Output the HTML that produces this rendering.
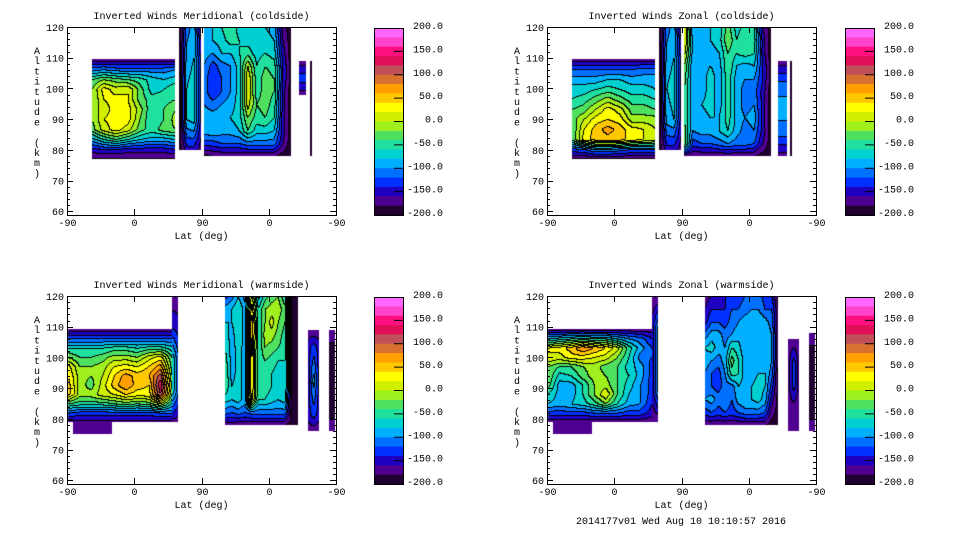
<!DOCTYPE html>
<html><head><meta charset="utf-8"><style>
html,body{margin:0;padding:0;background:#fff;}
#wrap{position:relative;width:960px;height:540px;overflow:hidden;font-family:"Liberation Mono",monospace;}
canvas{position:absolute;}
svg{position:absolute;left:0;top:0;}
text{font-family:"Liberation Mono",monospace;font-size:10px;fill:#000;}
</style></head><body>
<div id="wrap">
<canvas id="c0" width="269" height="188" style="left:67px;top:27px"></canvas>
<canvas id="c1" width="269" height="188" style="left:547px;top:27px"></canvas>
<canvas id="c2" width="269" height="188" style="left:67px;top:296px"></canvas>
<canvas id="c3" width="269" height="188" style="left:547px;top:296px"></canvas>
<svg id="ov" width="960" height="540"></svg>
</div>
<script>
// colour levels, top (200) to bottom (-200), 20 bands of 20
const levelColors = ["#ff66ff","#ff44cc","#ff1080","#e01058","#c05058","#d87030","#ffa000","#ffc800","#ffff00","#d0f000","#a0f020","#50e060","#20e0a0","#00d0d0","#00b0ff","#0070ff","#0030ff","#2000c0","#500090","#200030"];
const cbarLabels = ["200.0","150.0","100.0","50.0","0.0","-50.0","-100.0","-150.0","-200.0"];
const xTickLabels = ["-90","0","90","0","-90"];
const yTickLabels = [60,70,80,90,100,110,120];
const titles = ["Inverted Winds Meridional (coldside)","Inverted Winds Zonal (coldside)","Inverted Winds Meridional (warmside)","Inverted Winds Zonal (warmside)"];

// ---- panel data: rows bottom->top, columns left->right (wind, m/s) ----
const tlA = [
[-185,-185,-185,-185,-185,-185,-185,-185],
[-150,-140,-140,-150,-150,-150,-150,-140],
[-90,-60,-40,-60,-80,-90,-90,-80],
[-30,10,30,10,-30,-50,-30,-20],
[-20,20,30,30,-20,-60,-40,-10],
[-10,10,30,30,-10,-60,-40,-20],
[-20,20,30,20,-30,-50,-50,-40],
[-20,30,10,20,-30,-70,-60,-40],
[-40,-20,-30,-40,-50,-70,-80,-70],
[-110,-100,-110,-110,-110,-110,-110,-100],
[-170,-170,-170,-170,-170,-170,-170,-170]];
const tlB = [[-190,-150,-150,-170],[-190,-80,-70,-150],[-190,-80,-70,-150],[-190,-90,-80,-150],[-190,-110,-90,-170]];
const tlC = [
[-190,-180,-180,-180,-180,-180,-180,-180,-180,-190,-195],
[-130,-130,-120,-120,-120,-110,-110,-110,-110,-160,-195],
[-90,-80,-90,-90,-80,-40,-70,-70,-80,-150,-195],
[-90,-90,-90,-80,-70,-20,-50,-40,-60,-150,-195],
[-100,-110,-100,-90,-70,10,-40,-30,-50,-150,-195],
[-110,-140,-120,-100,-70,20,-50,-30,-40,-150,-195],
[-110,-140,-120,-100,-70,20,-50,-30,-40,-140,-195],
[-100,-130,-110,-100,-70,0,-60,-40,-50,-140,-195],
[-90,-100,-80,-80,-60,-50,-70,-60,-70,-150,-195],
[-80,-80,-70,-50,-60,-70,-70,-70,-80,-160,-195],
[-90,-80,-60,-40,-70,-80,-80,-80,-90,-170,-195]];
const tlD = [[-170,-170],[-130,-130],[-170,-170]];
const tlE = [[-195,-195],[-195,-195]];

const trA = [
[-185,-185,-185,-185,-185,-185,-185,-185],
[-130,-120,-100,-100,-110,-120,-120,-120],
[-40,30,50,50,50,30,20,10],
[-40,20,50,70,50,30,20,0],
[-30,0,30,40,30,-10,-10,-10],
[-40,-30,0,30,10,-30,-30,-40],
[-60,-50,-30,-10,-30,-50,-50,-60],
[-70,-70,-60,-50,-60,-70,-70,-80],
[-90,-90,-90,-80,-80,-90,-90,-90],
[-120,-120,-120,-120,-120,-120,-110,-110],
[-170,-170,-170,-170,-170,-170,-170,-170]];
const trB = [[-190,-150,-150,-170],[-190,-90,-80,-150],[-190,-80,-70,-150],[-190,-90,-80,-150],[-190,-110,-90,-170]];
const trC = [
[-185,-180,-180,-180,-180,-180,-180,-180,-180,-190,-195],
[-20,-130,-120,-120,-110,-100,-110,-110,-120,-160,-195],
[-30,-100,-90,-90,-80,-60,-90,-110,-100,-150,-195],
[-40,-100,-90,-80,-80,-50,-90,-100,-90,-150,-195],
[-40,-100,-80,-70,-90,-50,-90,-110,-100,-150,-195],
[-40,-100,-90,-70,-90,-50,-90,-110,-110,-150,-195],
[-30,-100,-90,-70,-90,-50,-90,-100,-100,-140,-195],
[-20,-100,-90,-80,-90,-40,-80,-90,-80,-140,-195],
[10,-90,-90,-90,-80,-40,-60,-50,-60,-150,-195],
[30,-90,-80,-80,-70,-20,-60,-40,-50,-150,-195],
[30,-100,-80,-80,-70,-30,-70,-50,-60,-160,-195]];
const trD = [[-170,-170],[-110,-110],[-90,-90],[-110,-110],[-170,-170]];
const trE = [[-195,-195],[-195,-195]];

const blA = [
[-170,-170,-170,-170,-170,-170,-170,-170,-170,-170],
[-120,-130,-130,-130,-130,-130,-130,-130,-120,-120],
[-40,-50,-50,-50,-40,-30,-40,-30,0,-60],
[50,-10,-10,10,20,40,30,30,120,-20],
[50,-10,-30,10,50,80,50,40,140,-10],
[40,-10,-20,0,40,70,50,60,110,-20],
[30,-20,-20,-10,20,30,20,40,70,-30],
[-20,-40,-40,-30,-10,-10,-20,10,30,-40],
[-60,-60,-60,-60,-50,-50,-60,-50,-50,-70],
[-120,-120,-120,-120,-120,-120,-120,-120,-120,-120],
[-170,-170,-170,-170,-170,-170,-170,-170,-170,-170]];
const blA2 = [[-180,-180],[-175,-175]];
const blB = [[-170,-170],[-60,-120],[-60,-120],[-140,-150],[-175,-175]];
const blC = [
[-180,-170,-180,-180,-180,-180,-180,-180,-180,-180,-190,-195],
[-110,-120,-110,-120,-110,-110,-110,-110,-110,-110,-190,-195],
[-70,-80,-70,-90,30,-60,-60,-70,-80,-70,-190,-195],
[-40,-80,-70,-90,40,-60,-50,-60,-80,-60,-190,-195],
[-40,-90,-70,-90,40,-60,-50,-60,-70,-60,-190,-195],
[-50,-90,-70,-90,40,-60,-40,-50,-60,-60,-190,-195],
[-60,-90,-70,-90,50,-60,-20,-30,-40,-50,-190,-195],
[-70,-90,-60,-90,60,-60,-10,-10,-30,-50,-190,-195],
[-80,-80,-60,-90,60,-60,-20,10,-20,-40,-190,-195],
[-90,-80,-60,-90,30,-60,-20,-10,-10,-30,-190,-195],
[-130,-110,-80,-110,10,-90,-50,-30,-20,-60,-190,-195]];
const blD = [[-175,-175,-175],[-150,-130,-150],[-150,-110,-150],[-150,-90,-150],[-150,-110,-150],[-150,-130,-150],[-175,-175,-175]];
const blE = [[-175,-175],[-195,-195],[-175,-175]];

const brA = [
[-175,-175,-175,-175,-175,-175,-175,-175,-175,-175],
[-130,-130,-130,-130,-120,-120,-120,-130,-130,-150],
[-80,-90,-80,-70,-50,-20,-60,-90,-100,-140],
[-60,-90,-90,-60,-20,20,-40,-80,-100,-130],
[-30,-90,-90,-60,-20,-10,-40,-70,-100,-130],
[-20,-70,-60,-30,-10,-20,-40,-60,-90,-130],
[-20,-40,-40,-20,-10,-30,-40,-70,-90,-130],
[20,10,30,30,20,10,-20,-60,-110,-120],
[20,30,50,80,60,40,10,-50,-90,-120],
[-80,-70,-60,-50,-60,-60,-80,-100,-110,-140],
[-170,-170,-170,-170,-170,-170,-170,-170,-170,-170]];
const brA2 = [[-180,-180],[-175,-175]];
const brB = [[-180,-180],[-150,-90],[-150,-90],[-150,-90],[-180,-180]];
const brC = [
[-180,-180,-180,-180,-180,-180,-180,-180,-180,-180,-190,-190],
[-130,-120,-130,-120,-130,-120,-110,-110,-110,-120,-170,-190],
[-100,-90,-110,-100,-120,-90,-80,-80,-70,-90,-150,-190],
[-110,-120,-130,-110,-110,-80,-90,-80,-70,-80,-130,-190],
[-100,-120,-130,-100,-50,-60,-90,-90,-80,-80,-110,-190],
[-90,-100,-110,-90,-30,-60,-90,-100,-90,-80,-100,-180],
[-80,-70,-90,-100,-60,-70,-100,-100,-90,-80,-100,-180],
[-110,-90,-90,-110,-100,-90,-90,-90,-80,-80,-100,-180],
[-150,-120,-120,-130,-110,-100,-90,-80,-80,-90,-110,-180],
[-160,-140,-140,-140,-120,-120,-110,-100,-100,-120,-120,-180],
[-170,-160,-150,-140,-140,-130,-120,-120,-110,-130,-140,-190]];
const brD = [[-175,-175,-175],[-170,-170,-170],[-170,-130,-170],[-170,-130,-170],[-175,-175,-175]];
const brE = [[-175,-175],[-195,-195],[-175,-175]];

// block extents: lat axis in 0..360 (-90..90..-90), altitude km
const panels = [
 [{d0:33,d1:145,a0:77,a1:109.5,v:tlA},{d0:150,d1:179,a0:80,a1:120,v:tlB},{d0:183,d1:300,a0:78,a1:120,v:tlC},{d0:310,d1:320,a0:98,a1:109,v:tlD},{d0:325,d1:328,a0:78,a1:109,v:tlE}],
 [{d0:33,d1:145,a0:77,a1:109.5,v:trA},{d0:150,d1:179,a0:80,a1:120,v:trB},{d0:183,d1:300,a0:78,a1:120,v:trC},{d0:309,d1:321,a0:78,a1:109,v:trD},{d0:325,d1:328,a0:78,a1:109,v:trE}],
 [{d0:1,d1:140,a0:79,a1:109.2,v:blA},{d0:8,d1:60,a0:75,a1:79,v:blA2},{d0:140,d1:149,a0:79,a1:120,v:blB},{d0:211,d1:309,a0:78,a1:120,v:blC},{d0:322,d1:337,a0:76,a1:109,v:blD},{d0:351,d1:359,a0:76,a1:109,v:blE}],
 [{d0:1,d1:140,a0:79,a1:109.2,v:brA},{d0:8,d1:60,a0:75,a1:79,v:brA2},{d0:140,d1:149,a0:79,a1:120,v:brB},{d0:211,d1:309,a0:78,a1:120,v:brC},{d0:322,d1:337,a0:76,a1:106,v:brD},{d0:351,d1:359,a0:76,a1:108,v:brE}]
];

const PW=269, PH=188, KM=3.07;
function xScale(d){return d/360*PW;}
function yScale(a){return (120-a)*KM;}
function bandOf(v){let k=Math.floor((200-v)/20);return Math.max(0,Math.min(19,k));}
function hex(c){return [parseInt(c.substr(1,2),16),parseInt(c.substr(3,2),16),parseInt(c.substr(5,2),16)];}
const rgb = levelColors.map(hex);
function sample(b,d,a){
  const v=b.v, nr=v.length, nc=v[0].length;
  const fx=Math.max(0,Math.min(nc-1,(d-b.d0)/(b.d1-b.d0)*(nc-1)));
  const fy=Math.max(0,Math.min(nr-1,(a-b.a0)/(b.a1-b.a0)*(nr-1)));
  const i=Math.min(nc-2,Math.floor(fx)), j=Math.min(nr-2,Math.floor(fy));
  if(nc<2||nr<2) return v[0][0];
  const tx=fx-i, ty=fy-j;
  return (v[j][i]*(1-tx)+v[j][i+1]*tx)*(1-ty)+(v[j+1][i]*(1-tx)+v[j+1][i+1]*tx)*ty;
}
panels.forEach((blocks,p)=>{
  const cv=document.getElementById('c'+p), ctx=cv.getContext('2d');
  const img=ctx.createImageData(PW,PH);
  const band=new Int16Array(PW*PH).fill(-1), blk=new Int16Array(PW*PH).fill(-1);
  for(let y=0;y<PH;y++){const a=120-(y+0.5)/KM;
    for(let x=0;x<PW;x++){const d=(x+0.5)/PW*360;
      for(let k=0;k<blocks.length;k++){const b=blocks[k];
        if(d>=b.d0&&d<=b.d1&&a>=b.a0&&a<=b.a1){band[y*PW+x]=bandOf(sample(b,d,a));blk[y*PW+x]=k;break;}}
    }}
  for(let y=0;y<PH;y++)for(let x=0;x<PW;x++){const idx=y*PW+x,o=idx*4,bd=band[idx];
    if(bd<0){img.data[o]=255;img.data[o+1]=255;img.data[o+2]=255;img.data[o+3]=255;continue;}
    let line=false;
    if(x>0&&blk[idx-1]===blk[idx]&&band[idx-1]!==bd) line=true;
    if(y>0&&blk[idx-PW]===blk[idx]&&band[idx-PW]!==bd) line=true;
    const c=line?[0,0,0]:rgb[bd];
    img.data[o]=c[0];img.data[o+1]=c[1];img.data[o+2]=c[2];img.data[o+3]=255;}
  ctx.putImageData(img,0,0);
});

// ---- axes overlay ----
const NS='http://www.w3.org/2000/svg', ov=document.getElementById('ov');
function el(tag,attrs,parent,txt){const e=document.createElementNS(NS,tag);for(const k in attrs)e.setAttribute(k,attrs[k]);if(txt!==undefined)e.textContent=txt;(parent||ov).appendChild(e);return e;}
const origins=[[67,27,374],[547,27,845],[67,296,374],[547,296,845]];
origins.forEach((o,p)=>{
  const [ox,oy,cx]=o;
  const g=el('g',{});
  
  
  const t=el('text',{x:ox+PW/2,y:oy-8,'text-anchor':'middle'},g,titles[p]);
  
  
  const fr=el('rect',{x:ox+0.5,y:oy+0.5,width:PW,height:PH,fill:'none',stroke:'#000','stroke-width':1},g);
  
  
  for(let a=60;a<=120;a+=2){const y=oy+Math.round(yScale(a))+0.5;const L=(a%10===0)?6:3;
    el('line',{x1:ox,x2:ox+L,y1:y,y2:y,stroke:'#000'},g);el('line',{x1:ox+PW-L,x2:ox+PW,y1:y,y2:y,stroke:'#000'},g);}
  yTickLabels.forEach(a=>{const tl=el('text',{x:ox-3,y:oy+yScale(a)+4,'text-anchor':'end'},g,String(a));
    
    });
  xTickLabels.forEach((lab,i)=>{const x=ox+Math.round(xScale(i*90))+0.5;
    el('line',{x1:x,x2:x,y1:oy,y2:oy+6,stroke:'#000'},g);el('line',{x1:x,x2:x,y1:oy+PH-6,y2:oy+PH,stroke:'#000'},g);
    const tl=el('text',{x:x,y:oy+PH+11,'text-anchor':'middle'},g,lab);
    
    });
  const xl=el('text',{x:ox+PW/2,y:oy+PH+24,'text-anchor':'middle'},g,'Lat (deg)');
  
  
  const yt=el('g',{},g);
  
  
  'Altitude (km)'.split('').forEach((ch,i)=>{el('text',{x:ox-30,y:oy+27+i*10.2,'text-anchor':'middle'},yt,ch);});
  const cb=el('g',{},g);
  
  
  const bh=187/levelColors.length;
  levelColors.forEach((c,i)=>{const r=el('rect',{x:cx,y:oy+1+i*bh,width:29,height:bh+0.5,fill:c},cb);
    
    });
  el('rect',{x:cx+0.5,y:oy+1.5,width:29,height:187,fill:'none',stroke:'#000'},cb);
  cbarLabels.forEach((lab,i)=>{const y=oy+1+i*187/8;
    if(i>0&&i<8) el('line',{x1:cx+20,x2:cx+29,y1:y,y2:y,stroke:'#000'},cb);
    const tl=el('text',{x:cx+69,y:y+1,'text-anchor':'end'},cb,lab);
    
    });
});
const ft=el('text',{x:681,y:524,'text-anchor':'middle'},ov,'2014177v01 Wed Aug 10 10:10:57 2016');


</script>
</body></html>
